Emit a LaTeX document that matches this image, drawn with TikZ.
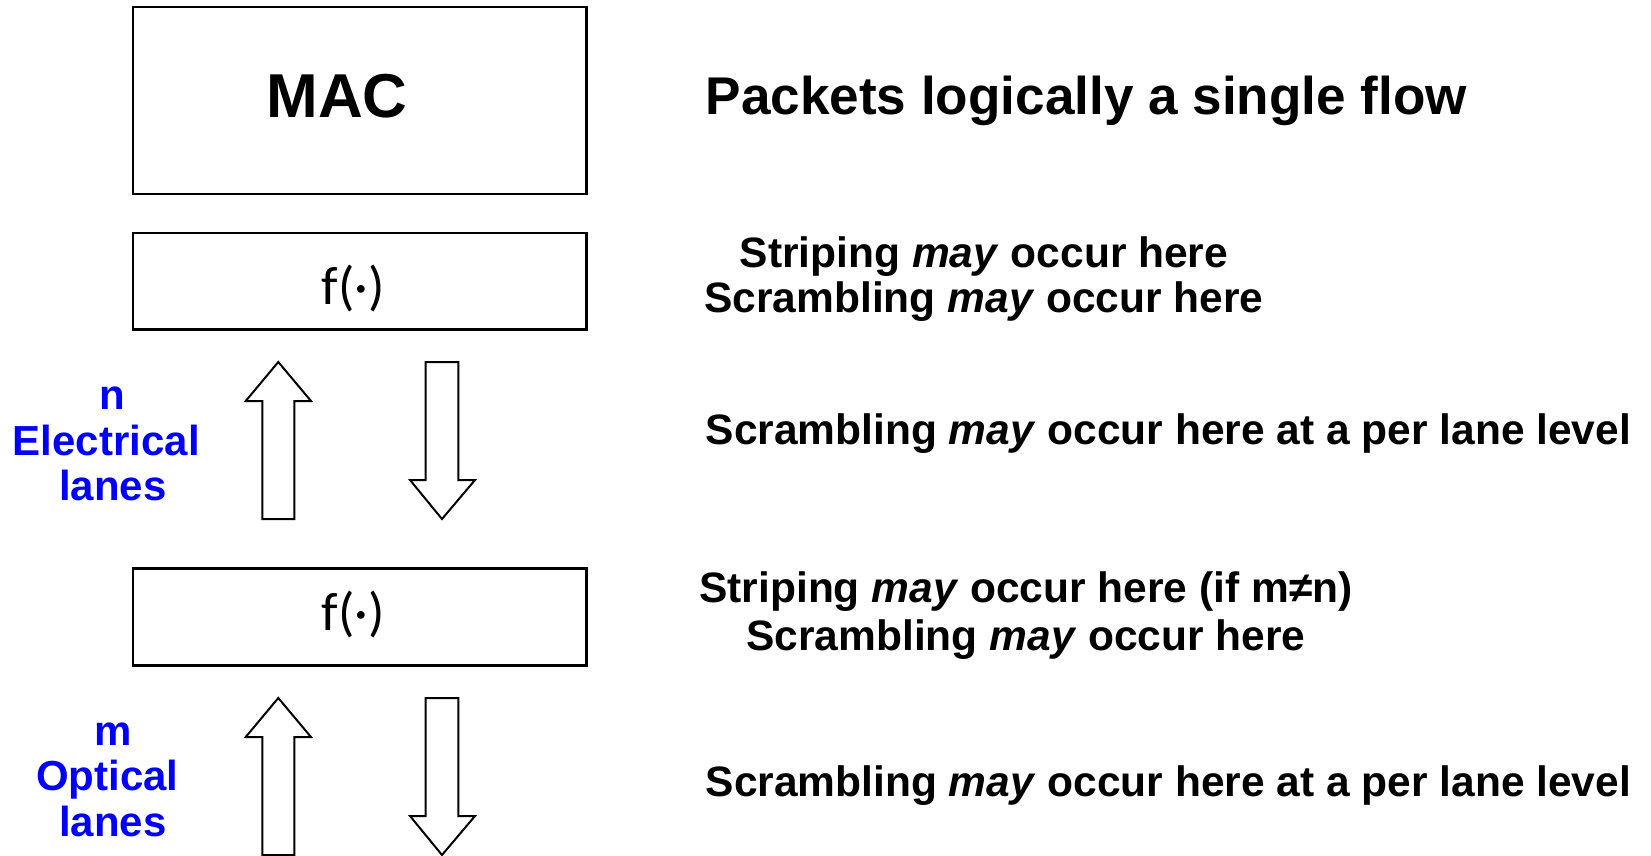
\documentclass[tikz,border=0pt]{standalone}
\usepackage{fontspec}
\setmainfont{Liberation Sans}
\newfontfamily\funcfont{Carlito}
\definecolor{laneblue}{RGB}{0,0,255}
\begin{document}
\begin{tikzpicture}[x=1pt,y=-1pt,
  blk/.style={draw=black, line width=2.3pt, inner sep=0pt, minimum width=453.8pt},
  note/.style={font=\bfseries\fontsize{42.5}{48}\selectfont, anchor=base, inner sep=0pt},
  notel/.style={note, anchor=base west},
  lane/.style={font=\bfseries\fontsize{42}{46}\selectfont, text=laneblue, anchor=base, inner sep=0pt},
  functxt/.style={font=\funcfont\fontsize{54}{58}\selectfont, inner sep=0pt},
  blockarrow/.style={draw=black, line width=2pt, fill=white, miter limit=10},
  uparrow/.pic={\draw[blockarrow] (-16,157) -- (-16,39) -- (-32.6,39) -- (0,0)
      -- (32.7,39) -- (16,39) -- (16,157) -- cycle;},
  downarrow/.pic={\draw[blockarrow] (-16.3,0) -- (16.3,0) -- (16.3,118) -- (33,118)
      -- (0,157) -- (-32,118) -- (-16.3,118) -- cycle;}]
\useasboundingbox (0,0) rectangle (1651,856);

% stack of blocks
\node[blk, minimum height=186.3pt] (mac) at (359.6,100.5) {};
\node[anchor=base, inner sep=0pt, font=\bfseries\fontsize{62}{66}\selectfont] (mactxt) at (337,118) {MAC};

\node[blk, minimum height=96.9pt] (fupper) at (359.6,281.1) {};
\node[functxt] (fuppertxt) at (353,288.5) {f(·)};

\node[blk, minimum height=96.9pt] (flower) at (359.6,617) {};
\node[functxt] (flowertxt) at (353,614.5) {f(·)};

% lane arrows
\pic at (278.3,362) {uparrow};
\pic at (442,362) {downarrow};
\pic at (278.3,698) {uparrow};
\pic at (442,698) {downarrow};

% lane labels
\node[lane] (nlab) at (112.7,409) {n};
\node[lane] (elab) at (106.3,455) {Electrical};
\node[lane] (elanes) at (112.7,500) {lanes};
\node[lane] (mlab) at (112.7,745) {m};
\node[lane] (olab) at (107.4,790) {Optical};
\node[lane] (olanes) at (112.7,836) {lanes};

% annotations
\node[anchor=base west, inner sep=0pt, font=\bfseries\fontsize{53.1}{58}\selectfont] (flow) at (705.5,114) {Packets logically a single flow};
\node[note] (stripeA) at (984,267) {Striping \textit{may} occur here};
\node[note] (scrambA) at (984,312) {Scrambling \textit{may} occur here};
\node[notel] (laneA) at (705.5,444) {Scrambling \textit{may} occur here at a per lane level};
\node[note] (stripeB) at (1026,602) {Striping \textit{may} occur here (if m≠n)};
\node[note] (scrambB) at (1026,650) {Scrambling \textit{may} occur here};
\node[notel] (laneB) at (705.5,796) {Scrambling \textit{may} occur here at a per lane level};
\end{tikzpicture}
\end{document}
